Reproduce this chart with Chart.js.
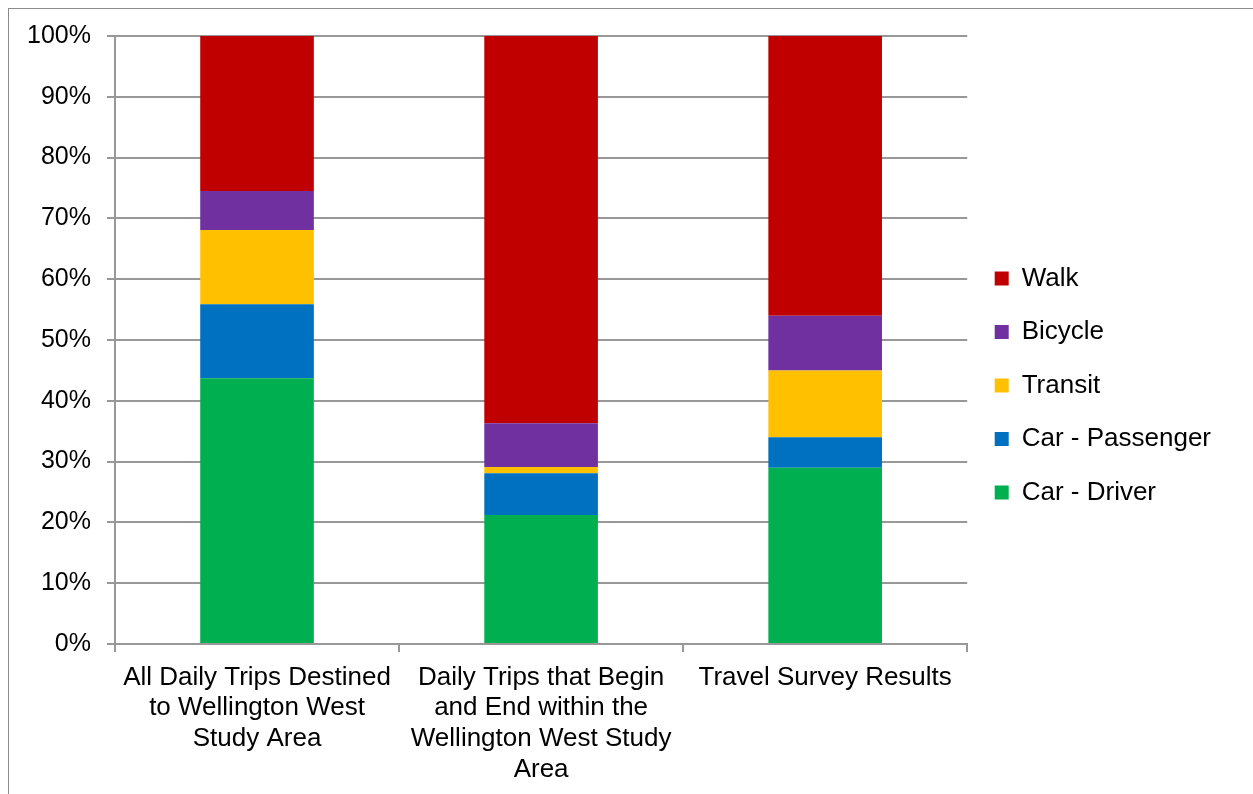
<!DOCTYPE html>
<html>
<head>
<meta charset="utf-8">
<title>Mode share</title>
<script src="https://cdn.jsdelivr.net/npm/chart.js@4/dist/chart.umd.min.js"></script>
<style>
    body { margin: 0; background: #fff; }
    #frame { position: absolute; left: 8px; top: 8px; width: 1300px; height: 830px; border: 1px solid #8c8c8c; background: #fff; }
    #mode-chart { display: block; }
</style>
</head>
<body>
<div id="frame"><canvas id="mode-chart" width="1244" height="786"></canvas></div>
<script>
var categories = [
    ['All Daily Trips Destined', 'to Wellington West', 'Study Area'],
    ['Daily Trips that Begin', 'and End within the', 'Wellington West Study', 'Area'],
    ['Travel Survey Results']
];
var modes = ['Car - Driver', 'Car - Passenger', 'Transit', 'Bicycle', 'Walk'];
var carDriver = [43.7, 21.2, 29.0];
var carPassenger = [12.2, 6.9, 5.0];
var transit = [12.2, 1.0, 11.0];
var bicycle = [6.4, 7.2, 9.0];
var walk = [25.5, 63.7, 46.0];
var modeColors = ['#00B050', '#0070C0', '#FFC000', '#7030A0', '#C00000'];
var yMax = 100,
    yStep = 10;

window.onload = function () {
    var ctx = document.getElementById('mode-chart'),
        series = [carDriver, carPassenger, transit, bicycle, walk],
        datasets = [],
        lineColor = '#989898';

    for (var i = 0; i < modes.length; i++) {
        datasets.push({
            label: modes[i],
            data: series[i],
            backgroundColor: modeColors[i],
            borderWidth: 0,
            categoryPercentage: 1,
            barPercentage: 0.4
        });
    }

    Chart.defaults.font.family = "'Liberation Sans', Arial, sans-serif";
    Chart.defaults.font.size = 24;
    Chart.defaults.color = '#000';

    var modeChart = new Chart(ctx, {
        type: 'bar',
        data: {
            labels: categories,
            datasets: datasets
        },
        options: {
            responsive: false,
            animation: false,
            layout: {
                padding: { top: 27, right: 32, bottom: 0, left: 0 }
            },
            plugins: {
                tooltip: { enabled: false },
                legend: {
                    position: 'right',
                    align: 'start',
                    fullSize: false,
                    reverse: true,
                    // empty title only pushes the key list down beside the plot
                    title: {
                        display: true,
                        text: '',
                        padding: { top: 192, bottom: 0 },
                        font: { size: 10, lineHeight: 1 }
                    },
                    labels: {
                        boxWidth: 14,
                        boxHeight: 14,
                        padding: 27.5,
                        color: '#000',
                        font: { size: 26 }
                    }
                }
            },
            scales: {
                x: {
                    stacked: true,
                    grid: {
                        offset: true,
                        drawOnChartArea: false,
                        tickLength: 8,
                        lineWidth: 2,
                        color: lineColor
                    },
                    border: { color: lineColor, width: 2 },
                    ticks: {
                        padding: 10,
                        maxRotation: 0,
                        autoSkip: false,
                        font: { size: 26, lineHeight: 1.18 }
                    },
                    afterFit: function (scale) {
                        scale.height = 151;
                    }
                },
                y: {
                    stacked: true,
                    min: 0,
                    max: yMax,
                    grid: {
                        tickLength: 8,
                        lineWidth: 2,
                        color: lineColor
                    },
                    border: { color: lineColor, width: 2 },
                    ticks: {
                        stepSize: yStep,
                        padding: 16,
                        font: { size: 25, lineHeight: 0.8 },
                        callback: function (value) {
                            return value + '%';
                        }
                    },
                    afterFit: function (scale) {
                        scale.width = 106;
                    }
                }
            }
        }
    });
};
</script>
</body>
</html>
